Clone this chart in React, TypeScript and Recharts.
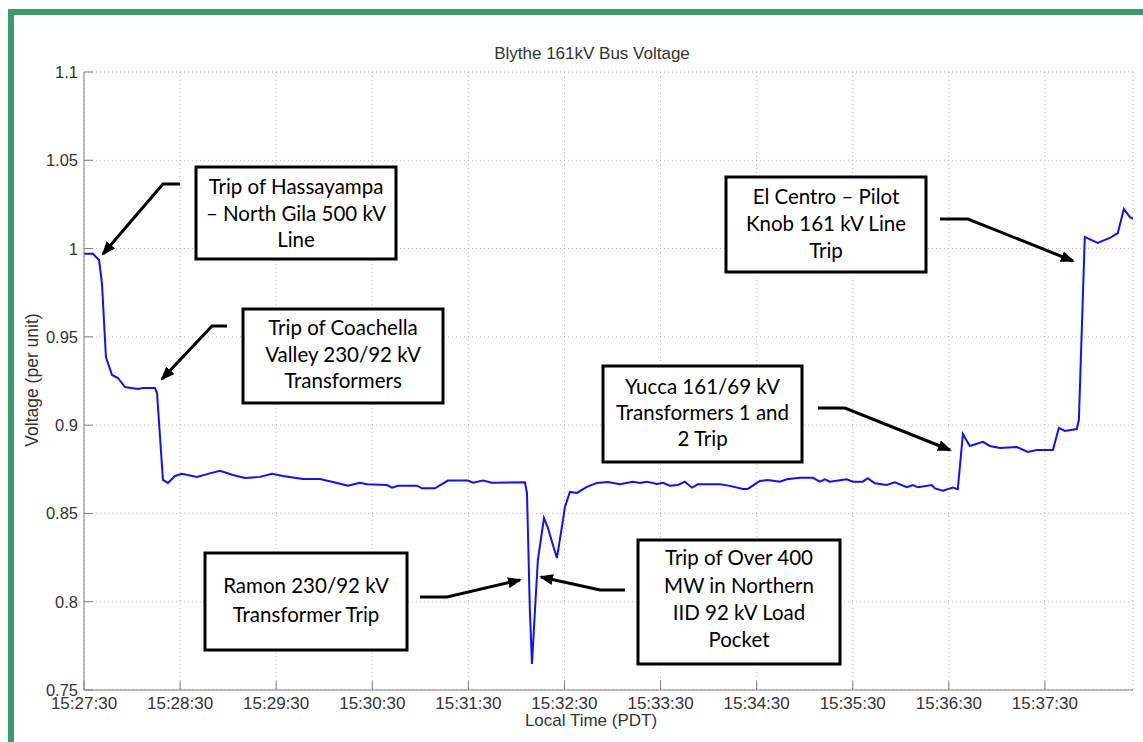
import React from "react";
import { LineChart, Line, XAxis, YAxis, CartesianGrid } from "recharts";

// seconds after 15:27:30
const timeSec = [
  0, 5.6, 9.4, 11.2, 13.7, 17.5, 21.2, 25.6, 33.7, 36.8, 44.3, 45.6, 49.3, 52.4, 56.8, 61.2, 70.5, 77.4,
  84.9, 93.0, 100.5, 109.9, 117.4, 124.2, 136.7, 147.3, 155.4, 164.8, 172.3, 176.7, 189.2, 192.3, 196,
  207.9, 211, 219.1, 227.2, 239.7, 242.9, 249.1, 254.7, 275.3, 276.6, 278.4, 279.7, 281.6, 283.4, 287.2,
  289.7, 292.8, 295.3, 298.4, 300.3, 303.4, 307.8, 314, 320.3, 327.1, 334.6, 342.7, 347.1, 351.5, 357.7,
  361.5, 365.8, 370.8, 375.2, 379.6, 383.3, 397.1, 403.3, 411.4, 414.5, 422, 427, 434.5, 438.9, 447,
  455.1, 459.5, 462.6, 465.7, 476.3, 480.1, 486.3, 489.4, 493.8, 501.3, 506.3, 513.8, 517.5, 520.7,
  529.4, 531.3, 536.3, 542.5, 545.6, 548.8, 553.1, 561.3, 565.6, 571.9, 582.5, 589.3, 595, 605, 608.7,
  612.4, 619.9, 621.2, 624.9, 633, 640.5, 645.5, 649.3, 653, 654.9,
];

const voltage = [
  0.997, 0.997, 0.9935, 0.9805, 0.9386, 0.9284, 0.9267, 0.9216, 0.9205, 0.921, 0.921, 0.9182, 0.869,
  0.8673, 0.8712, 0.8724, 0.8707, 0.8724, 0.8741, 0.8718, 0.8701, 0.8707, 0.8724, 0.8712, 0.8695,
  0.8695, 0.8678, 0.8657, 0.8674, 0.8665, 0.8661, 0.8646, 0.8657, 0.8657, 0.8642, 0.8642, 0.8686,
  0.8686, 0.8674, 0.8686, 0.8674, 0.8676, 0.8616, 0.7953, 0.7647, 0.7953, 0.8236, 0.8474, 0.8418,
  0.8321, 0.8248, 0.8423, 0.8537, 0.8622, 0.8616, 0.865, 0.8673, 0.8678, 0.8665, 0.868, 0.8673, 0.868,
  0.8667, 0.8673, 0.8657, 0.8661, 0.868, 0.8646, 0.8665, 0.8665, 0.8656, 0.8639, 0.8639, 0.8684,
  0.8689, 0.868, 0.8693, 0.8702, 0.8702, 0.868, 0.8693, 0.868, 0.8693, 0.868, 0.868, 0.87, 0.8671,
  0.8661, 0.8676, 0.8648, 0.8661, 0.8648, 0.8661, 0.8642, 0.8629, 0.8646, 0.8637, 0.895, 0.8882,
  0.8905, 0.8882, 0.8871, 0.8876, 0.8848, 0.8859, 0.8859, 0.8984, 0.8967, 0.8978, 0.9029, 1.0066,
  1.0032, 1.006, 1.0088, 1.0224, 1.0179, 1.0168,
];

const xTicks = [0, 60, 120, 180, 240, 300, 360, 420, 480, 540, 600];
const xTickLabels = [
  "15:27:30", "15:28:30", "15:29:30", "15:30:30", "15:31:30", "15:32:30",
  "15:33:30", "15:34:30", "15:35:30", "15:36:30", "15:37:30",
];
const yTicks = [0.75, 0.8, 0.85, 0.9, 0.95, 1, 1.05, 1.1];
const yTickLabels = ["0.75", "0.8", "0.85", "0.9", "0.95", "1", "1.05", "1.1"];

const data = timeSec.map((t, i) => ({ t, v: voltage[i] }));

const axisFont = "'Liberation Sans', Arial, sans-serif";
const boxFont = "Lato, 'Open Sans', sans-serif";

function XTick(props: any) {
  const { x, y, payload } = props;
  const i = xTicks.indexOf(payload.value);
  return (
    <g>
      <line x1={x} x2={x} y1={y} y2={y - 9} stroke="#808080" />
      <text x={x} y={y + 19} textAnchor="middle" fontSize={17} fill="#333" fontFamily={axisFont}>
        {xTickLabels[i]}
      </text>
    </g>
  );
}

function YTick(props: any) {
  const { x, y, payload } = props;
  const i = yTicks.indexOf(payload.value);
  return (
    <g>
      <line x1={x} x2={x + 9} y1={y} y2={y} stroke="#808080" />
      <text x={x - 6} y={y + 6} textAnchor="end" fontSize={16.5} fill="#333" fontFamily={axisFont}>
        {yTickLabels[i]}
      </text>
    </g>
  );
}

// callout boxes and arrows (page pixels)
const boxes = [
  { x: 196, y: 167, w: 200, h: 92, lines: ["Trip of Hassayampa", "\u2013 North Gila 500 kV", "Line"], ly: [187, 214, 240] },
  { x: 243, y: 309, w: 200, h: 94, lines: ["Trip of Coachella", "Valley 230/92 kV", "Transformers"], ly: [328, 355, 381] },
  { x: 726, y: 177, w: 200, h: 95, lines: ["El Centro \u2013 Pilot", "Knob 161 kV Line", "Trip"], ly: [197, 224, 251] },
  { x: 603, y: 366, w: 199, h: 96, lines: ["Yucca 161/69 kV", "Transformers 1 and", "2 Trip"], ly: [387, 413, 439] },
  { x: 205, y: 553, w: 202, h: 97, lines: ["Ramon 230/92 kV", "Transformer Trip"], ly: [586, 615] },
  { x: 638, y: 540, w: 202, h: 124, lines: ["Trip of Over 400", "MW in Northern", "IID 92 kV Load", "Pocket"], ly: [558, 586, 613, 640] },
];

const arrows = [
  "180,184 163,184 103,254",
  "227,326 212,326 162,379",
  "940,219 968,219 1073,261",
  "818,408 845,408 950,450",
  "420,597 447,597 520,580",
  "625,590 600,590 541,577",
];

export default function App() {
  return (
    <div style={{ position: "absolute", left: 0, top: 0, width: 1143, height: 742, background: "#fff", overflow: "hidden" }}>
      <div
        style={{
          position: "absolute",
          left: 8,
          top: 9,
          width: 1160,
          height: 760,
          border: "6px solid #3a9a6c",
          boxSizing: "border-box",
        }}
      />
      <div style={{ position: "absolute", left: 0, top: 0 }}>
        <LineChart width={1143} height={742} data={data} margin={{ top: 72, right: 10, bottom: 22, left: 24 }}>
          <CartesianGrid stroke="#b8b8b8" strokeDasharray="1 3" />
          <XAxis
            dataKey="t"
            type="number"
            domain={[0, 655]}
            ticks={xTicks}
            interval={0}
            tick={<XTick />}
            tickLine={false}
            tickSize={0}
            tickMargin={0}
            height={30}
            stroke="#808080"
            allowDataOverflow
          />
          <YAxis
            type="number"
            domain={[0.75, 1.1]}
            ticks={yTicks}
            interval={0}
            tick={<YTick />}
            tickLine={false}
            tickSize={0}
            tickMargin={0}
            width={60}
            stroke="#808080"
            allowDataOverflow
          />
          <Line type="linear" dataKey="v" stroke="#1010ff" strokeWidth={2} dot={false} isAnimationActive={false} />
        </LineChart>
      </div>
      <svg width={1143} height={742} style={{ position: "absolute", left: 0, top: 0, pointerEvents: "none" }}>
        <defs>
          <marker id="ah" markerWidth={14} markerHeight={11} refX={12} refY={5.5} orient="auto" markerUnits="userSpaceOnUse">
            <path d="M0,0 L14,5.5 L0,11 z" fill="#000" />
          </marker>
        </defs>
        <text x={592} y={59} textAnchor="middle" fontSize={17} fill="#333" fontFamily={axisFont}>
          Blythe 161kV Bus Voltage
        </text>
        <text
          x={38}
          y={380}
          textAnchor="middle"
          fontSize={17.5}
          fill="#333"
          fontFamily={axisFont}
          transform="rotate(-90 38 380)"
        >
          Voltage (per unit)
        </text>
        <text x={591} y={726} textAnchor="middle" fontSize={17} fill="#333" fontFamily={axisFont}>
          Local Time (PDT)
        </text>
        {arrows.map((p, i) => (
          <polyline key={i} points={p} fill="none" stroke="#000" strokeWidth={3} markerEnd="url(#ah)" />
        ))}
        {boxes.map((b, i) => (
          <g key={i}>
            <rect x={b.x} y={b.y} width={b.w} height={b.h} fill="#fff" stroke="#000" strokeWidth={3} />
            {b.lines.map((l, j) => (
              <text
                key={j}
                x={b.x + b.w / 2}
                y={b.ly[j] + 7}
                textAnchor="middle"
                fontSize={20.5}
                fill="#000"
                fontFamily={boxFont}
              >
                {l}
              </text>
            ))}
          </g>
        ))}
      </svg>
    </div>
  );
}
